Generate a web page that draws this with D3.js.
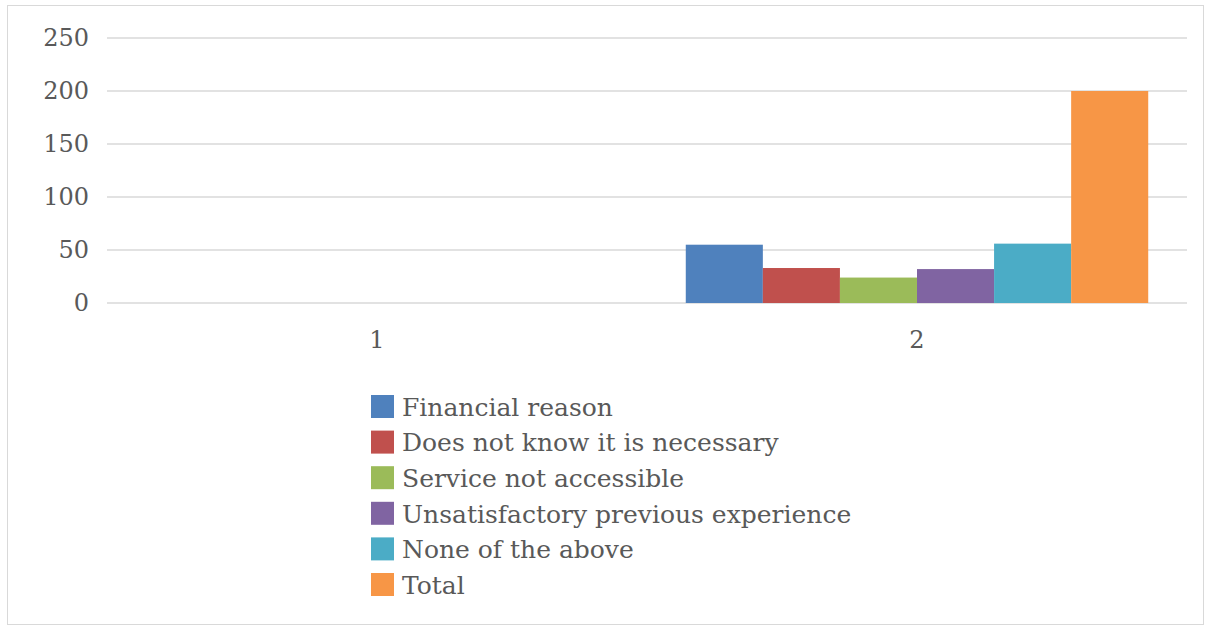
<!DOCTYPE html>
<html>
<head>
<meta charset="utf-8">
<script src="https://cdn.jsdelivr.net/npm/d3@7"></script>
<style>
  body { margin: 0; background: #fff; }
  text { font-family: "DejaVu Serif", serif; fill: #595959; }
</style>
</head>
<body>
<script>
// datos
var categorias = ["1", "2"];
var series = ["Financial reason", "Does not know it is necessary", "Service not accessible",
              "Unsatisfactory previous experience", "None of the above", "Total"];
var colores = ["#4f81bd", "#c0504d", "#9bbb59", "#8064a2", "#4bacc6", "#f79646"];
// valores por categoria (la 1 esta vacia)
var valores1 = [0, 0, 0, 0, 0, 0];
var valores2 = [55, 33, 24, 32, 56, 200];
var ticksY = [0, 50, 100, 150, 200, 250];

var valores = [valores1, valores2];

var W = 1210, H = 631;
var svg = d3.select("body").append("svg")
    .attr("width", W)
    .attr("height", H);

// marco
svg.append("rect")
    .attr("x", 7.5).attr("y", 5.5)
    .attr("width", 1196).attr("height", 619)
    .attr("fill", "none")
    .attr("stroke", "#d9d9d9")
    .attr("stroke-width", 1);

var mIzq = 107, mDer = 1187, mSup = 38, mInf = 303;

var x0 = d3.scaleBand().domain(categorias).range([mIzq, mDer]);
// 6 barras de ~77px con un hueco de ~77px entre grupos
var x1 = d3.scaleBand().domain(series)
    .range([x0.bandwidth() * 0.0718, x0.bandwidth() * (1 - 0.0718)]);

var y = d3.scaleLinear().domain([0, 250]).range([mInf, mSup]);

// lineas de la rejilla
svg.append("g")
    .selectAll("line")
    .data(ticksY)
    .enter()
    .append("line")
    .attr("x1", mIzq).attr("x2", mDer)
    .attr("y1", d => y(d)).attr("y2", d => y(d))
    .attr("stroke", "#d9d9d9")
    .attr("stroke-width", 1.5);

// etiquetas eje Y
svg.append("g")
    .selectAll("text")
    .data(ticksY)
    .enter()
    .append("text")
    .attr("x", 89)
    .attr("y", d => y(d))
    .attr("dy", "0.35em")
    .attr("text-anchor", "end")
    .style("font-size", "24px")
    .text(d => d);

// barras
var grupos = svg.append("g")
    .selectAll("g")
    .data(categorias)
    .enter()
    .append("g")
    .attr("transform", d => "translate(" + x0(d) + ",0)");

grupos.selectAll("rect")
    .data((c, i) => series.map((s, j) => ({ serie: s, valor: valores[i][j], color: colores[j] })))
    .enter()
    .append("rect")
    .attr("x", d => x1(d.serie))
    .attr("width", x1.bandwidth())
    .attr("y", d => y(d.valor))
    .attr("height", d => y(0) - y(d.valor))
    .attr("fill", d => d.color);

// etiquetas eje X
svg.append("g")
    .selectAll("text")
    .data(categorias)
    .enter()
    .append("text")
    .attr("x", d => x0(d) + x0.bandwidth() / 2)
    .attr("y", 348)
    .attr("text-anchor", "middle")
    .style("font-size", "24px")
    .text(d => d);

// leyenda
var leyenda = svg.append("g")
    .selectAll("g")
    .data(series)
    .enter()
    .append("g")
    .attr("transform", (d, i) => "translate(371," + (395 + i * 35.6) + ")");

leyenda.append("rect")
    .attr("width", 23).attr("height", 23)
    .attr("fill", (d, i) => colores[i]);

leyenda.append("text")
    .attr("x", 31)
    .attr("y", 12)
    .attr("dy", "0.35em")
    .style("font-size", "25px")
    .text(d => d);
</script>
</body>
</html>
